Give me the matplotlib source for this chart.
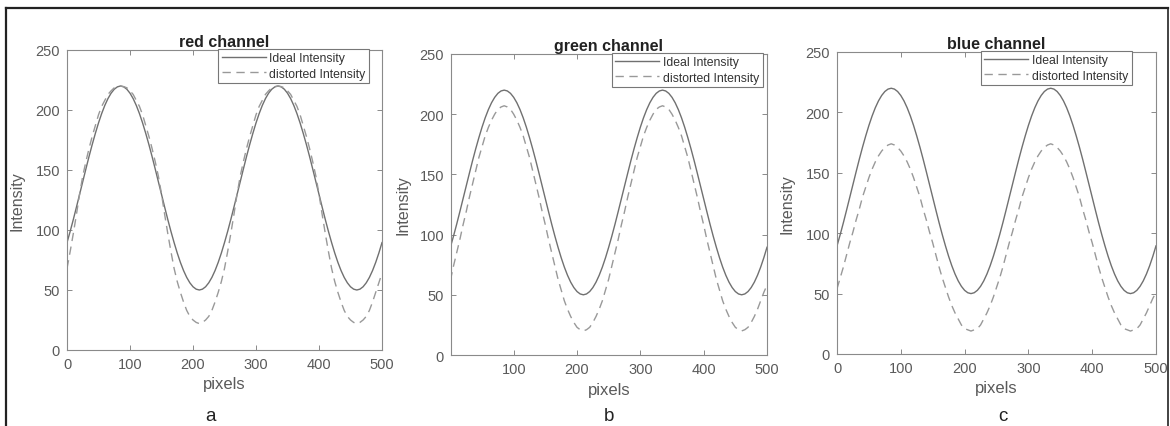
import matplotlib
matplotlib.use("Agg")
import matplotlib.pyplot as plt
from matplotlib.lines import Line2D

plt.rcParams['font.family'] = ['Liberation Sans', 'DejaVu Sans']

# ---- data ----
pixels = [0, 5, 10, 15, 20, 25, 30, 35, 40, 45, 50, 55, 60, 65, 70, 75, 80, 85, 90, 95,
          100, 105, 110, 115, 120, 125, 130, 135, 140, 145, 150, 155, 160, 165, 170, 175, 180, 185, 190, 195,
          200, 205, 210, 215, 220, 225, 230, 235, 240, 245, 250, 255, 260, 265, 270, 275, 280, 285, 290, 295,
          300, 305, 310, 315, 320, 325, 330, 335, 340, 345, 350, 355, 360, 365, 370, 375, 380, 385, 390, 395,
          400, 405, 410, 415, 420, 425, 430, 435, 440, 445, 450, 455, 460, 465, 470, 475, 480, 485, 490, 495,
          500]

ideal = [89.5, 98.8, 108.7, 119.1, 129.7, 140.3, 150.9, 161.3, 171.2, 180.5,
         189.2, 197.0, 203.8, 209.5, 214.0, 217.3, 219.3, 220.0, 219.3, 217.3,
         214.0, 209.5, 203.8, 197.0, 189.2, 180.5, 171.2, 161.3, 150.9, 140.3,
         129.7, 119.1, 108.7, 98.8, 89.5, 80.8, 73.0, 66.2, 60.5, 56.0,
         52.7, 50.7, 50.0, 50.7, 52.7, 56.0, 60.5, 66.2, 73.0, 80.8,
         89.5, 98.8, 108.7, 119.1, 129.7, 140.3, 150.9, 161.3, 171.2, 180.5,
         189.2, 197.0, 203.8, 209.5, 214.0, 217.3, 219.3, 220.0, 219.3, 217.3,
         214.0, 209.5, 203.8, 197.0, 189.2, 180.5, 171.2, 161.3, 150.9, 140.3,
         129.7, 119.1, 108.7, 98.8, 89.5, 80.8, 73.0, 66.2, 60.5, 56.0,
         52.7, 50.7, 50.0, 50.7, 52.7, 56.0, 60.5, 66.2, 73.0, 80.8,
         89.5]

red_distorted = [68, 82, 97, 113, 130, 145, 157, 168, 178, 187,
                 196, 203, 208, 213, 216, 218.5, 219.5, 220, 219.5, 218.5,
                 216, 213, 208, 203, 196, 187, 178, 168, 157, 145,
                 130, 113, 97, 82, 68, 57, 48, 40, 33, 28,
                 25, 23, 22, 23, 25, 28, 33, 40, 48, 57,
                 68, 82, 97, 113, 130, 145, 157, 168, 178, 187,
                 196, 203, 208, 213, 216, 218.5, 219.5, 220, 219.5, 218.5,
                 216, 213, 208, 203, 196, 187, 178, 168, 157, 145,
                 130, 113, 97, 82, 68, 57, 48, 40, 33, 28,
                 25, 23, 22, 23, 25, 28, 33, 40, 48, 56,
                 64]

green_distorted = [62, 74, 85, 96, 108, 119, 131, 142, 153, 164,
                   173, 182, 189, 195, 200, 204, 206, 207, 206, 204,
                   200, 195, 189, 182, 173, 164, 153, 142, 131, 119,
                   108, 96, 85, 74, 63, 54, 45, 38, 32, 27,
                   23, 21, 20, 21, 23, 27, 32, 38, 45, 54,
                   63, 74, 85, 96, 108, 119, 131, 142, 153, 164,
                   173, 182, 189, 195, 200, 204, 206, 207, 206, 204,
                   200, 195, 189, 182, 173, 164, 153, 142, 131, 119,
                   108, 96, 85, 74, 63, 54, 45, 38, 32, 27,
                   23, 21, 20, 21, 23, 27, 32, 38, 45, 52,
                   58]

blue_distorted = [54, 63, 72, 82, 92, 101, 111, 120, 130, 138,
                  146, 153, 159, 164, 168, 171, 173, 174, 173, 171,
                  168, 164, 159, 153, 146, 138, 130, 120, 111, 101,
                  92, 82, 72, 63, 55, 47, 40, 34, 29, 24,
                  21, 20, 19, 20, 21, 24, 29, 34, 40, 47,
                  55, 63, 72, 82, 92, 101, 111, 120, 130, 138,
                  146, 153, 159, 164, 168, 171, 173, 174, 173, 171,
                  168, 164, 159, 153, 146, 138, 130, 120, 111, 101,
                  92, 82, 72, 63, 55, 47, 40, 34, 29, 24,
                  21, 20, 19, 20, 21, 24, 29, 34, 40, 46,
                  51]

titles = ["red channel", "green channel", "blue channel"]
panel_labels = ["a", "b", "c"]
series_labels = ["Ideal Intensity", "distorted Intensity"]
x_ticks = [0, 100, 200, 300, 400, 500]
x_ticks_b = [100, 200, 300, 400, 500]
y_ticks = [0, 50, 100, 150, 200, 250]

# ---- figure ----
W, H = 1170, 427
fig = plt.figure(figsize=(W / 100, H / 100), dpi=100)

def fx(px):
    return px / W

def fy(py):
    return 1 - py / H

# axes boxes in pixels: left, right, top, bottom
boxes = [(67, 382, 51, 351), (451, 767, 55, 356), (837, 1156, 53, 355)]
legend_anchor = [(0.959, 1.004), (0.987, 1.004), (0.925, 1.004)]
ylabel_x = [25, 410, 794]
label_x = [210, 609, 1003]
distorted = [red_distorted, green_distorted, blue_distorted]

spine_c = '#8a8a8a'
tick_c = '#5a5a5a'

for i, (l, r, t, b) in enumerate(boxes):
    ax = fig.add_axes([fx(l), fy(b), fx(r - l), fy(t) - fy(b)])
    ax.plot(pixels, ideal, color='#707070', lw=1.0, ls='-', label=series_labels[0])
    ax.plot(pixels, distorted[i], color='#999999', lw=1.0, ls=(0, (6, 4)), label=series_labels[1])
    if i == 1:
        ax.set_xlim(1, 500)
        ax.set_xticks(x_ticks_b)
    else:
        ax.set_xlim(0, 500)
        ax.set_xticks(x_ticks)
    ax.set_ylim(0, 250)
    ax.set_yticks(y_ticks)
    for s in ax.spines.values():
        s.set_color(spine_c)
        s.set_linewidth(0.8)
    ax.tick_params(direction='in', length=3.5, width=0.7, color=spine_c,
                   labelcolor=tick_c, labelsize=10.5, top=True, right=True, pad=5)
    ax.set_title(titles[i], fontsize=11.5, fontweight='bold', color='#222222', pad=3)
    ax.set_xlabel('pixels', fontsize=12, color=tick_c, labelpad=4)
    ax.set_ylabel('Intensity', fontsize=11.5, color=tick_c)
    ax.yaxis.set_label_coords((ylabel_x[i] - l) / (r - l), 0.5)
    leg = ax.legend(loc='upper right', bbox_to_anchor=legend_anchor[i], fontsize=8.8,
                    handlelength=3.6, labelspacing=0.25, borderpad=0.3, handletextpad=0.3,
                    borderaxespad=0.0, fancybox=False, framealpha=1)
    leg.get_frame().set_edgecolor('#777777')
    leg.get_frame().set_linewidth(0.8)
    for txt in leg.get_texts():
        txt.set_color('#333333')
    fig.text(fx(label_x[i]), fy(417), panel_labels[i], fontsize=13.5,
             color='#222222', ha='center', va='center')

# outer frame lines (top, left, right)
fig.add_artist(Line2D([fx(6), fx(1168)], [fy(9), fy(9)], color='#222222', lw=1.6))
fig.add_artist(Line2D([fx(6), fx(6)], [fy(9), 0], color='#222222', lw=1.6))
fig.add_artist(Line2D([fx(1168), fx(1168)], [fy(9), 0], color='#222222', lw=1.2))

fig.savefig('out.png', dpi=100, facecolor='white')
